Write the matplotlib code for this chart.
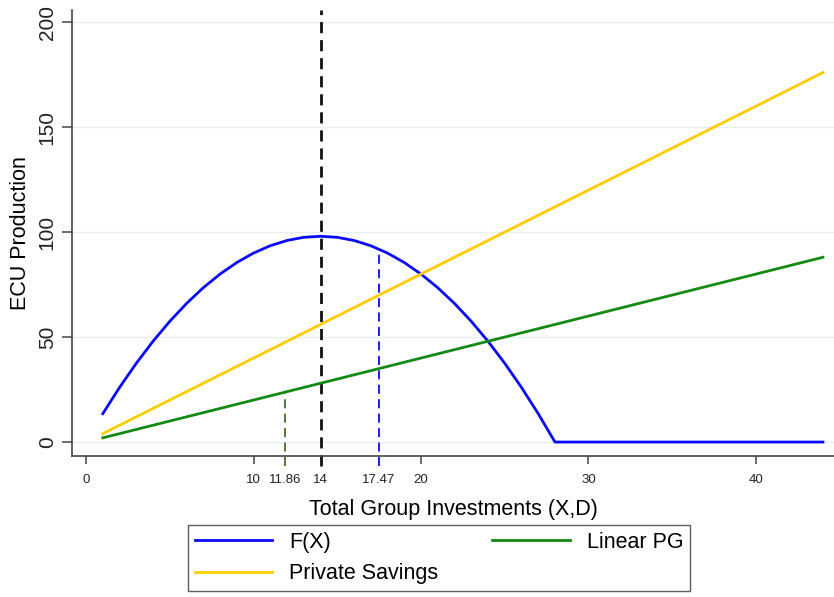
import matplotlib
matplotlib.use("Agg")
import matplotlib.pyplot as plt

plt.rcParams["font.family"] = ["Liberation Sans", "DejaVu Sans"]

# values
x_f = list(range(1, 29)) + [44]
f_x = [13.5, 26, 37.5, 48, 57.5, 66, 73.5, 80, 85.5, 90, 93.5, 96, 97.5, 98,
       97.5, 96, 93.5, 90, 85.5, 80, 73.5, 66, 57.5, 48, 37.5, 26, 13.5, 0, 0]
x_lin = [1, 44]
savings = [4, 176]
linear_pg = [2, 88]

# marked investment levels and heights of their guide lines
x_mark_pg = 11.86
y_mark_pg = 23.72
x_mark_opt = 14
x_mark_f = 17.47
y_mark_f = 92.0

xticks = [0, 10, 11.86, 14, 17.47, 20, 30, 40]
xtick_labels = ["0", "10", "11.86", "14", "17.47", "20", "30", "40"]
yticks = [0, 50, 100, 150, 200]

blue = "#0a0aff"
gold = "#ffcc00"
green = "#138a13"
olive = "#4b6b2a"

fig = plt.figure(figsize=(8.34, 5.97), dpi=100)
ax = fig.add_axes([0.0863, 0.236, 0.9137, 0.747])

ax.set_xlim(-0.84, 44.66)
ax.set_ylim(-6.7, 205.7)

for y in yticks:
    ax.axhline(y, color="#e6eef0", lw=1.0, zorder=0)

ymin = ax.get_ylim()[0]
ax.plot([x_mark_pg, x_mark_pg], [ymin - 4.5, y_mark_pg], color=olive, lw=1.3,
        ls=(0, (5, 3)), clip_on=False, zorder=2)
ax.plot([x_mark_f, x_mark_f], [ymin - 4.5, y_mark_f], color=blue, lw=1.3,
        ls=(0, (5, 3)), clip_on=False, zorder=2)
ax.plot([x_mark_opt, x_mark_opt], [ymin - 4.5, 205.7], color="#111111", lw=2.0,
        ls=(0, (4, 2.5)), clip_on=False, zorder=2)

ax.plot(x_f, f_x, color=blue, lw=2.0, label="F(X)", zorder=3)
ax.plot(x_lin, savings, color=gold, lw=2.0, label="Private Savings", zorder=3)
ax.plot(x_lin, linear_pg, color=green, lw=2.0, label="Linear PG", zorder=3)

ax.spines["top"].set_visible(False)
ax.spines["right"].set_visible(False)
for s in ("left", "bottom"):
    ax.spines[s].set_color("#444444")
    ax.spines[s].set_linewidth(1.2)

ax.set_yticks(yticks)
ax.set_yticklabels([str(v) for v in yticks], rotation=90, va="center",
                   fontsize=15, color="#222222")
ax.set_xticks(xticks)
ax.set_xticklabels(xtick_labels, fontsize=9.5, color="#222222")
ax.tick_params(axis="y", length=7, width=1.1, color="#444444", pad=4)
ax.tick_params(axis="x", length=6, width=1.1, color="#444444", pad=7)
for t, lbl in zip(ax.xaxis.get_major_ticks(), xtick_labels):
    if lbl in ("11.86", "14", "17.47"):
        t.tick1line.set_visible(False)

ax.set_ylabel("ECU Production", fontsize=15.5, labelpad=5)
ax.set_xlabel("Total Group Investments (X,D)", fontsize=15.5, labelpad=9)

h, l = ax.get_legend_handles_labels()
leg = fig.legend(h, l, loc="center", bbox_to_anchor=(0.5264, 0.0653), ncol=2,
                 fontsize=15.5, frameon=True, fancybox=False, handlelength=3.6,
                 handletextpad=0.8, columnspacing=2.5, borderpad=0.32,
                 labelspacing=0.5)
leg.get_frame().set_edgecolor("#333333")
leg.get_frame().set_linewidth(1.0)

fig.savefig("out.png", dpi=100)
